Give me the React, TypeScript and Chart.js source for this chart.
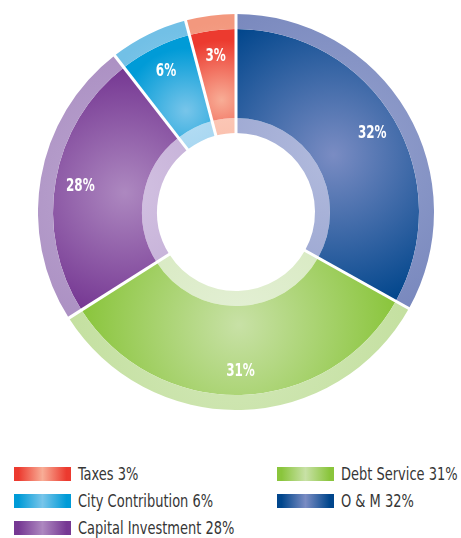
import React, { useEffect, useRef } from "react";
import { Chart, registerables } from "chart.js";

Chart.register(...registerables);

// Slices in clockwise order from 12 o'clock
const categories = ["O & M", "Debt Service", "Capital Investment", "City Contribution", "Taxes"];
// Angular share of each slice as drawn in the picture
const sliceShares = [33.1, 32.9, 23.5, 6.4, 4.1];
// Percentages printed on the chart / legend
const labelPercents = [32, 31, 28, 6, 3];

const palette = [
  { dark: "#01468c", hi: "#7a8cc3", ring: "#7383ba", ringHi: "#97a3cf", inner: "#8f9bcb", innerHi: "#b2bbdd" },
  { dark: "#8ac53c", hi: "#c8e1a6", ring: "#c1de9b", ringHi: "#d4e9bb", inner: "#cfe5b3", innerHi: "#e4f0d6" },
  { dark: "#763893", hi: "#ad88c0", ring: "#a98dc1", ringHi: "#bca6d0", inner: "#bca5d1", innerHi: "#d3c2e2" },
  { dark: "#009bd7", hi: "#78c5ea", ring: "#72c0e6", ringHi: "#92cfed", inner: "#98d0ee", innerHi: "#b8def4" },
  { dark: "#ec3a2f", hi: "#f8ad96", ring: "#f3987e", ringHi: "#f7b19b", inner: "#f9b7a2", innerHi: "#fccbbb" },
];

const WEIGHTS = [15, 89, 15];
const FONT = "'Liberation Sans Narrow', 'DejaVu Sans Condensed', 'Roboto', sans-serif";

const total = sliceShares.reduce((a, b) => a + b, 0);

function makeFill(chart: any, i: number, layer: number) {
  const p = palette[i];
  const base = layer === 0 ? p.ring : layer === 1 ? p.dark : p.inner;
  const hi = layer === 0 ? p.ringHi : layer === 1 ? p.hi : p.innerHi;
  const area = chart.chartArea;
  if (!area) return base;
  const cx = (area.left + area.right) / 2;
  const cy = (area.top + area.bottom) / 2;
  const R = Math.min(area.right - area.left, area.bottom - area.top) / 2;
  let before = 0;
  for (let j = 0; j < i; j++) before += sliceShares[j];
  const a0 = -Math.PI / 2 + (2 * Math.PI * before) / total;
  const span = (2 * Math.PI * sliceShares[i]) / total;
  const mid = a0 + span / 2;
  const rh = R * 0.57;
  const hx = cx + Math.cos(mid) * rh;
  const hy = cy + Math.sin(mid) * rh;
  let gr = Math.max(60, (span / 2) * rh + 40);
  if (layer !== 1) gr *= 1.3;
  const g = chart.ctx.createRadialGradient(hx, hy, 0, hx, hy, gr);
  g.addColorStop(0, hi);
  g.addColorStop(1, base);
  return g;
}

const overlayPlugin = {
  id: "overlay",
  afterDatasetsDraw(chart: any) {
    const ctx = chart.ctx;
    const outerMeta = chart.getDatasetMeta(0);
    const innerMeta = chart.getDatasetMeta(2);
    const mainMeta = chart.getDatasetMeta(1);
    if (!outerMeta.data.length) return;
    const R = outerMeta.data[0].outerRadius + 1;
    const r0 = innerMeta.data[0].innerRadius - 1;
    ctx.save();
    ctx.strokeStyle = "#ffffff";
    ctx.lineWidth = 3;
    ctx.lineCap = "butt";
    mainMeta.data.forEach((arc: any) => {
      const a = arc.startAngle;
      ctx.beginPath();
      ctx.moveTo(arc.x + Math.cos(a) * r0, arc.y + Math.sin(a) * r0);
      ctx.lineTo(arc.x + Math.cos(a) * R, arc.y + Math.sin(a) * R);
      ctx.stroke();
    });
    ctx.fillStyle = "#ffffff";
    ctx.font = `bold 18px ${FONT}`;
    ctx.textAlign = "center";
    ctx.textBaseline = "middle";
    mainMeta.data.forEach((arc: any, i: number) => {
      const mid = (arc.startAngle + arc.endAngle) / 2;
      const r = arc.outerRadius - 25;
      ctx.save();
      ctx.translate(arc.x + Math.cos(mid) * r, arc.y + Math.sin(mid) * r + 1);
      ctx.scale(0.74, 1);
      ctx.fillText(`${labelPercents[i]}%`, 0, 0);
      ctx.restore();
    });
    ctx.restore();
  },
};

export default function App() {
  const canvasRef = useRef<HTMLCanvasElement | null>(null);

  useEffect(() => {
    const canvas = canvasRef.current;
    if (!canvas) return;
    const datasets = WEIGHTS.map((w, layer) => ({
      data: sliceShares,
      weight: w,
      borderWidth: 0,
      hoverOffset: 0,
      offset: 0,
      backgroundColor: (c: any) => makeFill(c.chart, c.dataIndex, layer),
    }));
    const chart = new Chart(canvas, {
      type: "doughnut",
      data: { labels: categories, datasets },
      options: {
        responsive: false,
        maintainAspectRatio: false,
        animation: false,
        events: [],
        cutout: 79,
        layout: { padding: 0 },
        plugins: { legend: { display: false }, tooltip: { enabled: false } },
      } as any,
      plugins: [overlayPlugin],
    });
    return () => chart.destroy();
  }, []);

  const legendOrder = categories.map((_, i) => i).reverse();

  return (
    <div style={{ position: "absolute", left: 0, top: 0, width: 461, height: 538, background: "#fff", overflow: "hidden" }}>
      <canvas
        ref={canvasRef}
        width={396}
        height={396}
        style={{ position: "absolute", left: 38, top: 14, width: 396, height: 396 }}
      />
      <div
        style={{
          position: "absolute",
          left: 14,
          top: 460,
          display: "grid",
          gridAutoFlow: "column",
          gridTemplateRows: "repeat(3, 27px)",
          gridTemplateColumns: "263px auto",
          fontFamily: FONT,
          fontSize: 17,
          color: "#363636",
        }}
      >
        {legendOrder.map((i) => (
          <div key={i} style={{ display: "flex", alignItems: "center", whiteSpace: "nowrap" }}>
            <span
              style={{
                display: "inline-block",
                flex: "0 0 auto",
                width: 57,
                height: 14,
                marginRight: 7,
                background: `linear-gradient(90deg, ${palette[i].dark} 8%, ${palette[i].hi} 50%, ${palette[i].dark} 92%)`,
              }}
            />
            <span style={{ display: "inline-block", transform: "scaleX(0.85)", transformOrigin: "left center" }}>
              {`${categories[i]} ${labelPercents[i]}%`}
            </span>
          </div>
        ))}
      </div>
    </div>
  );
}
